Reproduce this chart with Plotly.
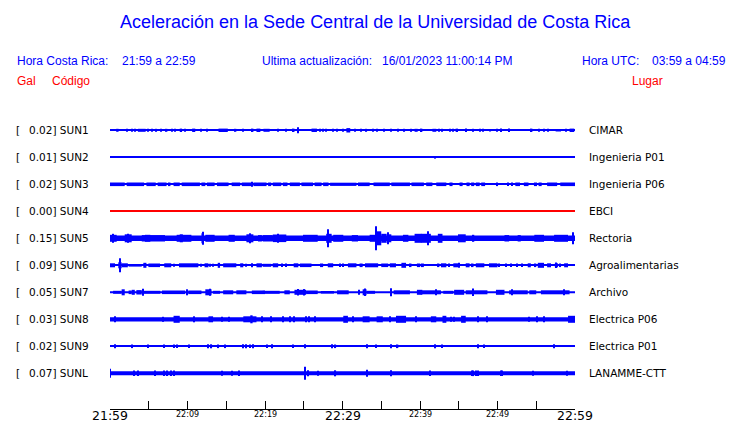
import plotly.graph_objects as go

# ---------------- data ----------------
TITLE = "Aceleración en la Sede Central de la Universidad de Costa Rica"
HORA_CR = "21:59 a 22:59"
ACTUALIZACION = "16/01/2023 11:00:14 PM"
HORA_UTC = "03:59 a 04:59"

CODES = ["SUN1", "SUN2", "SUN3", "SUN4", "SUN5", "SUN6", "SUN7", "SUN8", "SUN9", "SUNL"]
GAL = [0.02, 0.01, 0.02, 0.00, 0.15, 0.09, 0.05, 0.03, 0.02, 0.07]
PLACES = ["CIMAR", "Ingenieria P01", "Ingenieria P06", "EBCI", "Rectoria",
          "Agroalimentarias", "Archivo", "Electrica P06", "Electrica P01", "LANAMME-CTT"]
TRACE_COLORS = ["#0000ff", "#0000ff", "#0000ff", "#ff0000", "#0000ff",
                "#0000ff", "#0000ff", "#0000ff", "#0000ff", "#0000ff"]

# noise floor half-amplitude of each trace (display units)
NOISE = [0.6, 0.5, 0.6, 0.5, 2.7, 0.7, 1.0, 2.1, 0.7, 2.0]

# events: (start minute, end minute, half amplitude) read from the record
SUN1 = [(0.8,1.1,1.5),(2.2,2.2,1.5),(2.8,2.8,1.5),(3.2,3.2,1.5),(3.6,4.6,1.5),(4.9,4.9,1.5),
        (5.3,5.5,1.5),(6.0,6.0,1.5),(6.6,6.6,1.5),(7.2,7.4,1.5),(8.0,8.0,1.5),(8.4,8.4,1.5),
        (9.0,9.3,1.7),(9.7,9.7,1.5),(10.6,11.0,1.7),(11.8,11.8,1.5),(12.5,12.5,1.5),(14.0,15.2,1.7),
        (16.1,16.3,1.5),(17.2,17.2,1.5),(18.3,18.5,1.7),(18.9,19.4,1.7),(19.8,20.6,1.5),
        (21.7,21.7,1.5),(22.75,22.75,1.5),(23.6,23.8,1.7),(24.3,24.3,3.0),(26.0,26.7,1.7),
        (27.1,27.1,1.5),(27.5,27.5,1.5),(27.9,27.9,1.5),(28.8,28.8,1.5),(29.3,29.3,1.5),
        (30.1,30.1,1.5),(30.5,31.0,2.2),(31.6,31.6,1.5),(32.4,32.4,1.5),(33.1,33.1,1.5),
        (33.9,33.9,1.5),(34.4,34.4,1.5),(35.4,35.4,1.5),(36.3,36.3,1.5),(37.2,37.2,1.5),
        (38.0,38.0,1.5),(38.9,38.9,1.5),(39.3,39.7,1.5),(40.1,40.3,1.7),(41.6,42.1,1.5),
        (42.5,42.5,1.5),(42.9,42.9,1.5),(43.9,43.9,1.5),(44.2,44.2,1.5),(44.6,44.9,1.7),
        (45.9,45.9,1.7),(46.9,46.9,1.5),(47.8,47.8,1.5),(48.1,48.1,1.5),(49.1,49.1,1.2),
        (49.9,49.9,1.5),(50.4,50.5,1.7),(51.4,51.6,1.7),(54.3,54.5,1.7),(55.4,55.4,1.5),
        (56.0,56.0,1.5),(56.5,56.5,1.5),(57.5,58.2,1.2),(58.8,58.8,1.5),(59.3,59.9,1.7)]
SUN2 = [(42.0,42.0,1.3)]
SUN3 = [(0.0,1.9,1.8),(2.15,4.4,1.8),(4.7,5.9,1.8),(6.15,7.3,1.8),(7.6,7.8,1.8),(8.2,9.0,1.8),
        (9.25,11.6,1.8),(11.8,12.3,1.8),(12.5,13.5,1.8),(13.8,15.3,1.8),(15.7,16.8,1.8),
        (17.0,18.3,1.8),(18.3,18.3,2.5),(18.5,20.2,1.8),(20.4,20.8,1.8),(21.0,22.1,1.8),
        (22.3,22.9,1.8),(23.2,24.5,1.8),(24.7,26.2,1.8),(26.4,27.3,1.8),(27.5,28.2,1.8),
        (28.4,31.8,1.6),(32.0,33.5,1.8),(34.0,36.1,1.8),(36.3,38.7,1.8),(38.9,40.5,1.8),
        (40.8,41.6,1.8),(42.1,43.4,1.8),(43.8,44.2,1.8),(45.1,45.5,1.8),(46.0,46.4,1.8),
        (46.6,47.0,1.8),(47.2,47.7,1.8),(47.9,48.4,1.8),(50.0,50.0,1.8),(51.3,51.3,1.8),
        (51.9,51.9,1.8),(52.3,52.9,1.8),(53.4,54.0,1.8),(54.7,55.1,1.8),(55.3,55.7,1.8),
        (56.4,57.7,1.8),(58.1,60.0,1.8)]
SUN4 = []
SUN5 = [(0.0,0.86,3.5),(0.4,0.5,4.5),(1.9,2.8,4.0),(2.3,2.4,4.5),(4.1,7.1,3.2),(4.5,5.2,3.5),
        (8.6,10.5,3.5),(9.0,9.4,4.0),(11.8,12.1,5.0),(11.95,11.95,6.5),(12.3,13.5,3.5),
        (15.3,16.1,3.5),(17.6,18.5,4.0),(18.0,18.2,5.0),(19.1,19.6,3.2),(19.7,21.0,3.2),
        (21.0,22.75,3.8),(21.6,21.8,4.5),(24.9,26.8,3.5),(27.9,28.6,4.5),(28.1,28.1,9.0),
        (28.8,30.1,3.5),(31.2,32.0,3.2),(33.5,34.2,3.5),(34.3,34.3,12.0),(34.4,35.0,7.0),
        (35.0,35.7,4.5),(35.9,35.9,6.0),(35.9,36.3,4.0),(37.8,38.5,3.5),(39.3,40.2,4.5),
        (40.1,41.4,4.5),(41.0,41.0,7.0),(42.3,42.9,4.5),(44.9,45.9,4.0),(46.8,47.0,3.5),
        (50.9,51.5,3.2),(52.6,53.0,3.2),(54.75,56.0,3.5),(57.3,59.1,3.5),(59.7,59.7,6.0)]
SUN6 = [(0.0,0.65,2.0),(1.07,1.5,3.0),(1.3,1.3,7.0),(1.5,2.3,2.0),(2.4,4.1,1.3),(4.3,4.7,2.5),
        (4.95,6.45,1.8),(7.0,7.9,2.0),(8.2,8.2,1.5),(8.9,11.4,2.0),(11.8,11.8,1.5),(12.2,12.7,2.0),
        (12.9,12.9,1.5),(13.3,13.3,1.5),(13.9,14.2,2.5),(14.6,16.3,2.0),(16.8,17.2,2.0),
        (17.6,17.6,1.5),(18.3,18.3,2.0),(18.9,19.6,2.0),(19.7,20.8,1.5),(21.0,21.7,2.0),
        (22.1,22.3,1.8),(22.75,22.75,1.8),(23.7,24.3,2.0),(24.5,26.0,1.8),(27.1,27.5,1.8),
        (28.1,28.8,2.0),(29.7,29.7,1.8),(30.1,30.1,1.8),(30.7,31.8,2.0),(32.2,32.6,1.8),
        (32.9,34.6,2.0),(35.0,35.9,1.8),(36.1,36.9,2.0),(37.6,38.2,2.5),(38.7,38.9,1.8),
        (39.6,40.0,1.8),(40.1,40.5,1.8),(42.2,42.5,1.8),(42.7,43.4,2.0),(43.8,43.8,1.8),
        (44.3,44.9,2.0),(45.0,45.0,2.5),(45.9,46.4,2.0),(46.7,46.9,1.8),(47.2,48.3,2.0),
        (48.9,50.0,2.0),(50.2,50.2,1.8),(51.1,51.1,1.8),(51.7,51.7,1.8),(52.5,52.5,1.8),
        (53.2,53.2,1.8),(53.9,54.3,2.0),(54.8,55.0,1.8),(55.2,56.0,2.5),(56.4,56.9,2.0),
        (57.4,57.8,2.0),(57.6,57.6,2.8),(58.0,58.2,1.8),(58.6,59.1,2.0)]
SUN7 = [(0.4,1.5,1.5),(1.5,1.9,3.0),(2.4,2.8,1.8),(2.8,3.2,2.5),(3.4,4.1,2.2),(4.2,4.2,3.5),
        (4.2,6.5,1.5),(6.7,9.7,1.8),(10.0,10.0,3.0),(10.1,11.8,1.8),(12.3,13.1,3.0),(12.9,12.9,3.5),
        (13.3,14.2,1.5),(14.6,15.9,2.0),(16.3,17.6,2.0),(18.3,20.0,1.8),(19.7,21.9,1.5),
        (22.5,23.2,2.0),(23.8,25.3,2.5),(24.3,24.3,3.2),(25.1,25.1,3.2),(25.3,26.8,1.8),
        (27.2,28.9,1.3),(29.3,30.8,2.0),(32.0,32.2,2.5),(32.6,33.1,3.0),(32.9,32.9,3.8),
        (33.1,34.2,1.5),(36.3,36.3,4.0),(36.6,38.7,2.0),(39.6,40.3,2.5),(40.1,42.7,2.0),
        (42.1,42.1,3.0),(43.0,44.3,1.5),(44.4,45.7,2.5),(45.9,48.7,2.0),(46.8,46.8,3.7),
        (49.8,50.9,2.5),(51.5,53.9,2.0),(51.9,51.9,3.0),(54.1,55.0,2.0),(55.6,59.3,2.0),
        (58.6,58.6,3.0)]
SUN8 = [(0.65,0.65,3.0),(6.9,6.9,2.5),(8.2,9.0,3.5),(10.9,10.9,3.0),(12.7,13.3,3.0),
        (14.4,14.4,2.5),(15.3,15.3,2.5),(17.2,18.9,3.0),(18.1,18.4,4.0),(19.6,19.6,3.0),
        (20.8,20.8,3.0),(22.3,22.3,3.0),(23.2,23.2,3.0),(23.8,23.8,3.0),(25.3,25.3,3.0),
        (25.7,25.7,3.0),(26.4,26.4,3.0),(30.1,30.7,3.5),(31.4,31.4,3.0),(32.6,33.5,3.0),
        (34.4,35.2,3.0),(36.1,36.1,3.0),(36.9,38.2,3.5),(39.5,39.5,3.0),(41.4,42.1,3.0),
        (42.9,43.4,3.5),(44.0,44.0,2.5),(44.4,44.4,2.5),(45.3,45.9,3.5),(47.5,47.5,3.0),
        (48.6,48.6,3.0),(54.1,54.1,2.5),(55.1,55.1,3.0),(56.0,56.0,3.0),(59.1,60.0,3.5)]
SUN9 = [(0.7,0.7,2.0),(2.9,2.9,1.8),(4.9,4.9,1.8),(7.0,7.0,1.8),(8.2,8.2,1.8),(8.7,8.7,1.8),
        (10.2,10.2,1.8),(12.7,12.7,2.0),(13.1,13.1,2.0),(14.0,14.0,1.8),(14.9,14.9,1.8),
        (17.2,17.2,2.0),(17.6,17.6,2.0),(18.1,18.1,1.8),(18.5,18.5,2.0),(20.2,20.2,1.8),
        (20.9,20.9,2.0),(23.6,23.6,1.8),(25.2,25.2,2.0),(28.6,28.6,2.0),(29.1,29.1,1.8),
        (33.2,33.2,2.0),(34.3,34.3,1.8),(36.2,36.2,2.0),(36.9,37.2,1.8),(42.0,42.0,2.0),
        (42.8,42.8,1.8),(47.5,47.5,2.0),(48.2,48.2,1.8),(57.3,57.3,2.0)]
SUNL = [(0.0,0.0,4.5),(3.1,3.1,2.8),(3.65,3.65,2.8),(5.8,5.8,2.8),(7.0,7.0,2.8),(7.4,7.4,2.8),
        (7.9,7.9,2.8),(8.3,8.3,2.8),(14.5,14.5,2.5),(15.7,15.7,2.5),(16.6,16.6,2.8),
        (25.2,25.2,6.5),(25.5,25.5,3.0),(26.8,26.8,2.5),(29.1,29.1,3.0),(33.2,33.2,3.5),
        (36.2,36.2,3.0),(41.3,41.3,2.8),(46.7,46.7,2.8),(46.9,46.9,2.8),(47.2,47.2,2.8),
        (47.5,47.5,2.8),(50.4,50.4,2.8),(50.6,50.6,2.8),(54.6,54.6,2.5),(59.0,59.0,2.5)]
EVENTS = [SUN1, SUN2, SUN3, SUN4, SUN5, SUN6, SUN7, SUN8, SUN9, SUNL]

TICK_MIN = [0, 5, 10, 15, 20, 25, 30, 35, 40, 45, 50, 55, 60]
LABEL_MIN = [0, 10, 20, 30, 40, 50, 60]
LABEL_TEXT = ["21:59", "22:09", "22:19", "22:29", "22:39", "22:49", "22:59"]
MAJOR_LABELS = ["21:59", "22:29", "22:59"]

# ---------------- layout constants ----------------
W, H = 740, 423
L, R, T, B = 110, 575, 115, 409          # plot area in pixels
GAIN = 27.0                               # display units per trace spacing
Y_TOP = (130.3 - T) / GAIN
Y_BOT = -(B - 130.3) / GAIN
MIN_W = 0.14

def px(x):
    return (x - L) / (R - L)

def py(y):
    return (B - y) / (B - T)

fig = go.Figure()
for i, code in enumerate(CODES):
    ev = [(0.0, 60.0, NOISE[i])] + EVENTS[i]
    xs, ws, bases, hs = [], [], [], []
    for s, e, a in ev:
        w = max(e - s, MIN_W)
        xs.append((s + e) / 2)
        ws.append(w)
        bases.append(-i - a / GAIN)
        hs.append(2 * a / GAIN)
    fig.add_trace(go.Bar(x=xs, y=hs, base=bases, width=ws,
                         marker=dict(color=TRACE_COLORS[i], line=dict(width=0)),
                         hoverinfo="skip", showlegend=False))

ann = []
lab_font = dict(family="DejaVu Sans", size=10.5, color="black")
for i, code in enumerate(CODES):
    ann.append(dict(x=px(14), y=-i, xref="paper", yref="y", text="[", showarrow=False,
                    xanchor="left", yanchor="middle", font=lab_font))
    ann.append(dict(x=px(27), y=-i, xref="paper", yref="y",
                    text=f"{GAL[i]:.2f}] {code}", showarrow=False,
                    xanchor="left", yanchor="middle", font=lab_font))
    ann.append(dict(x=px(587), y=-i, xref="paper", yref="y", text=PLACES[i],
                    showarrow=False, xanchor="left", yanchor="middle", font=lab_font))

# time labels under the axis
for m, t in zip(LABEL_MIN, LABEL_TEXT):
    big = t in MAJOR_LABELS
    ann.append(dict(x=m, y=py(415.5 if big else 414.3), xref="x", yref="paper", text=t,
                    showarrow=False, xanchor="center", yanchor="middle",
                    font=dict(family="DejaVu Sans", size=12.5 if big else 8, color="black")))

hdr = dict(family="Liberation Sans", size=12, color="#0000ff")
red = dict(family="Liberation Sans", size=12, color="#ff0000")
def put(x, y, text, font, anchor="left"):
    ann.append(dict(x=px(x), y=py(y), xref="paper", yref="paper", text=text,
                    showarrow=False, xanchor=anchor, yanchor="middle", font=font))

put(375, 22, TITLE, dict(family="Liberation Sans", size=18, color="#0000ff"), "center")
put(15, 61, "Hora Costa Rica:", hdr)
put(120, 61, HORA_CR, hdr)
put(260, 61, "Ultima actualización:", hdr)
put(380, 61, ACTUALIZACION, hdr)
put(580, 61, "Hora UTC:", hdr)
put(650, 61, HORA_UTC, hdr)
put(15, 81, "Gal", red)
put(50, 81, "Código", red)
put(630, 81, "Lugar", red)

fig.update_layout(
    template="none",
    width=W, height=H,
    margin=dict(l=L, r=W - R, t=T, b=H - B, pad=0),
    paper_bgcolor="white", plot_bgcolor="white",
    barmode="overlay",
    showlegend=False,
    annotations=ann,
    xaxis=dict(range=[0, 60], showgrid=False, zeroline=False, showline=True,
               linecolor="black", linewidth=1, ticks="inside", ticklen=8,
               tickcolor="black", tickwidth=1, tickvals=TICK_MIN, showticklabels=False,
               automargin=False, fixedrange=True),
    yaxis=dict(range=[Y_BOT, Y_TOP], visible=False, automargin=False, fixedrange=True),
)

fig.write_html("out.html", config={"displayModeBar": False},
               post_script="document.body.style.margin='0';document.body.style.overflow='hidden';")
